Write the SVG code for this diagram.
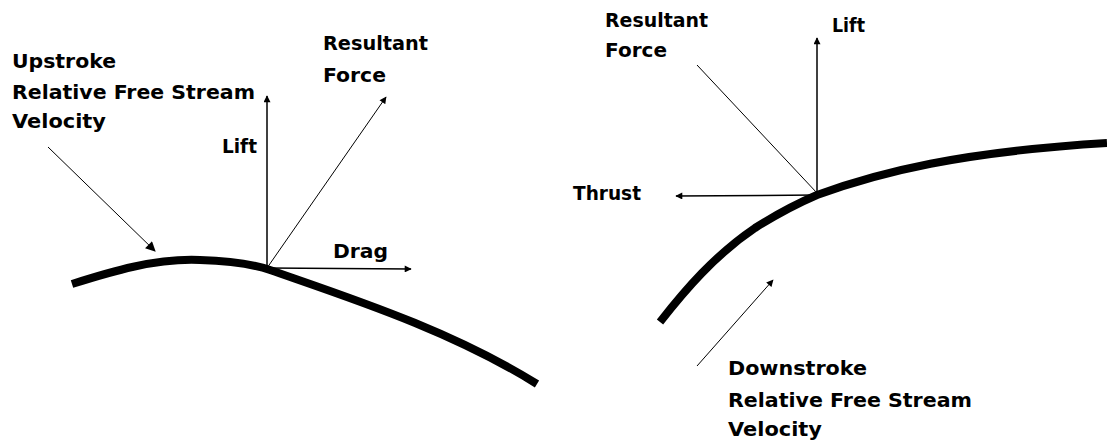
<svg xmlns="http://www.w3.org/2000/svg" width="1107" height="442" viewBox="0 0 1107 442">
<style>
.t{font-family:"DejaVu Sans","Liberation Sans",sans-serif;font-weight:bold;font-size:20px;fill:#000}
.wing{fill:none;stroke:#000;stroke-width:8;stroke-linecap:butt;stroke-linejoin:round}
.v{fill:none;stroke:#000;stroke-width:1.5}
.thin{fill:none;stroke:#000;stroke-width:1}
</style>
<defs>
<marker id="ah" viewBox="0 0 10 10" refX="9" refY="5" markerWidth="8" markerHeight="7" markerUnits="userSpaceOnUse" orient="auto">
<path d="M0,0 L10,5 L0,10 Z" fill="#000"/>
</marker>
<marker id="ahBig" viewBox="0 0 10 10" refX="9" refY="5" markerWidth="14" markerHeight="10" markerUnits="userSpaceOnUse" orient="auto">
<path d="M0,0 L10,5 L0,10 Z" fill="#000"/>
</marker>
</defs>
<rect width="1107" height="442" fill="#fff"/>

<g id="wing-left">
<path class="wing" d="M72,284 C110,272 155,258 200,260 C235,261 255,265 270,270 C350,298 450,330 537,384"/>
</g>
<g id="wing-right">
<path class="wing" d="M660,322 C685,290 715,255 755,228 C785,209 803,201 817,195 C880,172 960,152 1107,143"/>
</g>

<g id="connectors">
<line class="thin" x1="48" y1="147" x2="155" y2="251" marker-end="url(#ahBig)"/>
<line class="v" x1="267" y1="268" x2="267" y2="96" marker-end="url(#ah)"/>
<line class="thin" x1="267" y1="268" x2="386" y2="97" marker-end="url(#ah)"/>
<line class="v" x1="267" y1="268" x2="411" y2="269" marker-end="url(#ah)"/>
<line class="v" x1="817" y1="194" x2="817" y2="38" marker-end="url(#ah)"/>
<line class="thin" x1="817" y1="193" x2="697" y2="65"/>
<line class="v" x1="817" y1="195" x2="676" y2="196" marker-end="url(#ah)"/>
<line class="thin" x1="697" y1="366" x2="773" y2="280" marker-end="url(#ah)"/>
</g>

<g id="label-upstroke">
<text class="t" x="12" y="68" textLength="104" lengthAdjust="spacingAndGlyphs">Upstroke</text>
<text class="t" x="12" y="99" textLength="243" lengthAdjust="spacingAndGlyphs">Relative Free Stream</text>
<text class="t" x="12" y="128" textLength="94" lengthAdjust="spacingAndGlyphs">Velocity</text>
</g>
<g id="label-lift-left">
<text class="t" x="222" y="153" textLength="35" lengthAdjust="spacingAndGlyphs">Lift</text>
</g>
<g id="label-resultant-left">
<text class="t" x="323" y="50" textLength="105" lengthAdjust="spacingAndGlyphs">Resultant</text>
<text class="t" x="323" y="82" textLength="63" lengthAdjust="spacingAndGlyphs">Force</text>
</g>
<g id="label-drag">
<text class="t" x="333" y="258" textLength="55" lengthAdjust="spacingAndGlyphs">Drag</text>
</g>
<g id="label-resultant-right">
<text class="t" x="605" y="27" textLength="103" lengthAdjust="spacingAndGlyphs">Resultant</text>
<text class="t" x="605" y="57" textLength="62" lengthAdjust="spacingAndGlyphs">Force</text>
</g>
<g id="label-lift-right">
<text class="t" x="832" y="32" textLength="33" lengthAdjust="spacingAndGlyphs">Lift</text>
</g>
<g id="label-thrust">
<text class="t" x="573" y="200" textLength="68" lengthAdjust="spacingAndGlyphs">Thrust</text>
</g>
<g id="label-downstroke">
<text class="t" x="728" y="375" textLength="139" lengthAdjust="spacingAndGlyphs">Downstroke</text>
<text class="t" x="728" y="407" textLength="244" lengthAdjust="spacingAndGlyphs">Relative Free Stream</text>
<text class="t" x="728" y="436" textLength="94" lengthAdjust="spacingAndGlyphs">Velocity</text>
</g>
</svg>
